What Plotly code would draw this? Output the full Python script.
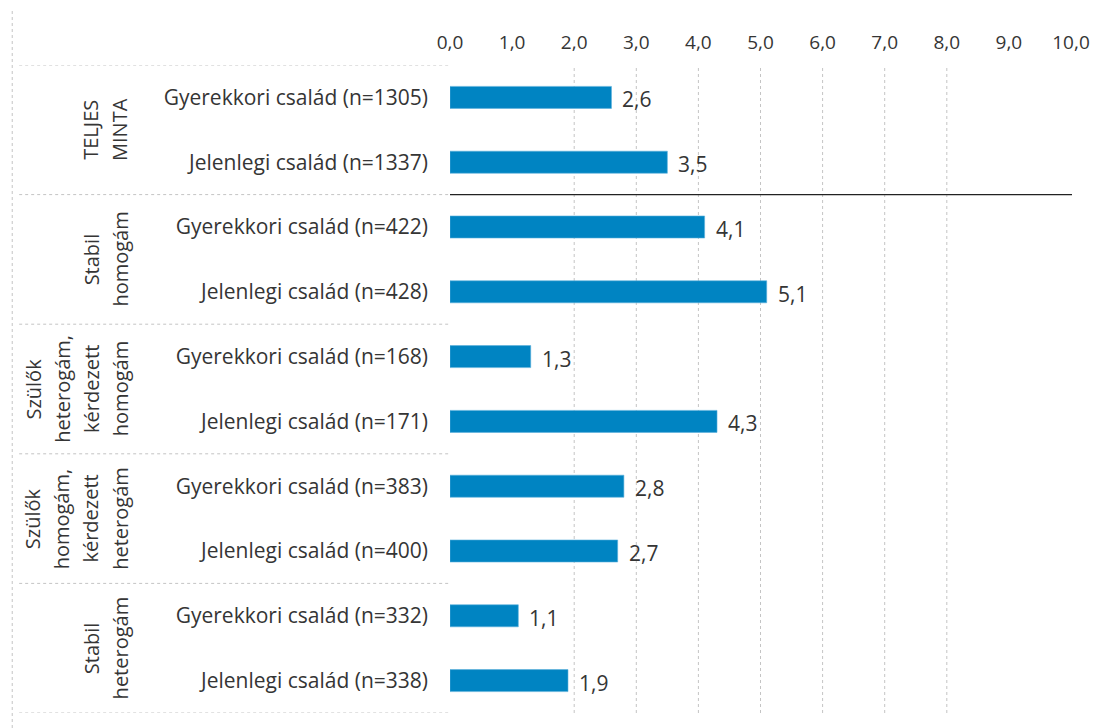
import plotly.graph_objects as go

# ---- data ----
categories = [
    "Gyerekkori család (n=1305)", "Jelenlegi család (n=1337)",
    "Gyerekkori család (n=422)", "Jelenlegi család (n=428)",
    "Gyerekkori család (n=168)", "Jelenlegi család (n=171)",
    "Gyerekkori család (n=383)", "Jelenlegi család (n=400)",
    "Gyerekkori család (n=332)", "Jelenlegi család (n=338)",
]
values = [2.6, 3.5, 4.1, 5.1, 1.3, 4.3, 2.8, 2.7, 1.1, 1.9]
group_labels = [
    ["TELJES", "MINTA"],
    ["Stabil", "homogám"],
    ["Szülők", "heterogám,", "kérdezett", "homogám"],
    ["Szülők", "homogám,", "kérdezett", "heterogám"],
    ["Stabil", "heterogám"],
]
group_sizes = [2, 2, 2, 2, 2]
tick_values = list(range(0, 11))
grid_values = [2, 3, 4, 5, 6, 7, 8]

# ---- layout geometry (pixels) ----
W, H = 1102, 728
PL, PR = 450, 1077   # plot left/right
PT, PB = 65, 713     # plot top/bottom
FONT = "Open Sans"
TXT = "#353535"
BAR = "#0084c2"
FS = 21


def px_x(px):
    return (px - PL) / (PR - PL)


def px_y(py):
    return (PB - py) / (PB - PT)


fig = go.Figure()
fig.add_trace(go.Bar(
    x=values, y=categories, orientation="h",
    marker=dict(color=BAR, line=dict(color="#5ab0dc", width=0.6)),
    width=0.34, hoverinfo="skip",
))

# value labels
for c, v in zip(categories, values):
    fig.add_annotation(x=v, y=c, text=f"{v:.1f}".replace(".", ","),
                       xanchor="left", yanchor="middle", xshift=9, yshift=-2,
                       showarrow=False, font=dict(family=FONT, size=FS, color=TXT))

shapes = []
# gridlines
for g in grid_values:
    shapes.append(dict(type="line", xref="x", yref="paper", x0=g, x1=g, y0=0, y1=1,
                       line=dict(color="#c4c4c4", width=1, dash="dot"), layer="below"))

# group separators
boundaries = [-0.5]
acc = -0.5
for s in group_sizes:
    acc += s
    boundaries.append(acc)
for i, b in enumerate(boundaries):
    shapes.append(dict(type="line", xref="paper", yref="y", x0=px_x(15), x1=0, y0=b, y1=b,
                       line=dict(color="#c4c4c4", width=1, dash="dot")))
# solid line after first group
shapes.append(dict(type="line", xref="paper", yref="y", x0=0, x1=px_x(1078),
                   y0=boundaries[1], y1=boundaries[1], line=dict(color="#222222", width=1.2)))
# vertical dotted line at far left
shapes.append(dict(type="line", xref="paper", yref="paper", x0=px_x(8), x1=px_x(8),
                   y0=px_y(728), y1=px_y(8), line=dict(color="#c4c4c4", width=1, dash="dot")))

# group labels (rotated)
line_gap = 29.5
last_line_px = 117
for gi, lines in enumerate(group_labels):
    ymid = (boundaries[gi] + boundaries[gi + 1]) / 2
    n = len(lines)
    for li, t in enumerate(lines):
        xp = last_line_px - (n - 1 - li) * line_gap
        fig.add_annotation(x=px_x(xp), xref="paper", y=ymid, yref="y", text=t,
                           textangle=-90, showarrow=False, xanchor="center", yanchor="middle",
                           font=dict(family=FONT, size=20, color=TXT))

fig.update_layout(
    width=W, height=H,
    margin=dict(l=PL, r=W - PR, t=PT, b=H - PB, pad=0),
    plot_bgcolor="white", paper_bgcolor="white",
    separators=", ",
    showlegend=False,
    shapes=shapes,
    font=dict(family=FONT, size=FS, color=TXT),
    xaxis=dict(side="top", range=[0, 10], tickvals=tick_values, tickformat=".1f",
               showgrid=False, zeroline=False, showline=False, ticks="",
               ticklabelstandoff=11, tickfont=dict(family=FONT, size=19, color=TXT),
               fixedrange=True),
    yaxis=dict(categoryorder="array", categoryarray=categories, range=[9.5, -0.5],
               showgrid=False, zeroline=False, showline=False, ticks="",
               ticklabelstandoff=21, tickfont=dict(family=FONT, size=FS, color=TXT),
               fixedrange=True),
)

fig.write_html("out.html", config={"displayModeBar": False},
               post_script="document.body.style.margin='0';document.body.style.overflow='hidden';")
